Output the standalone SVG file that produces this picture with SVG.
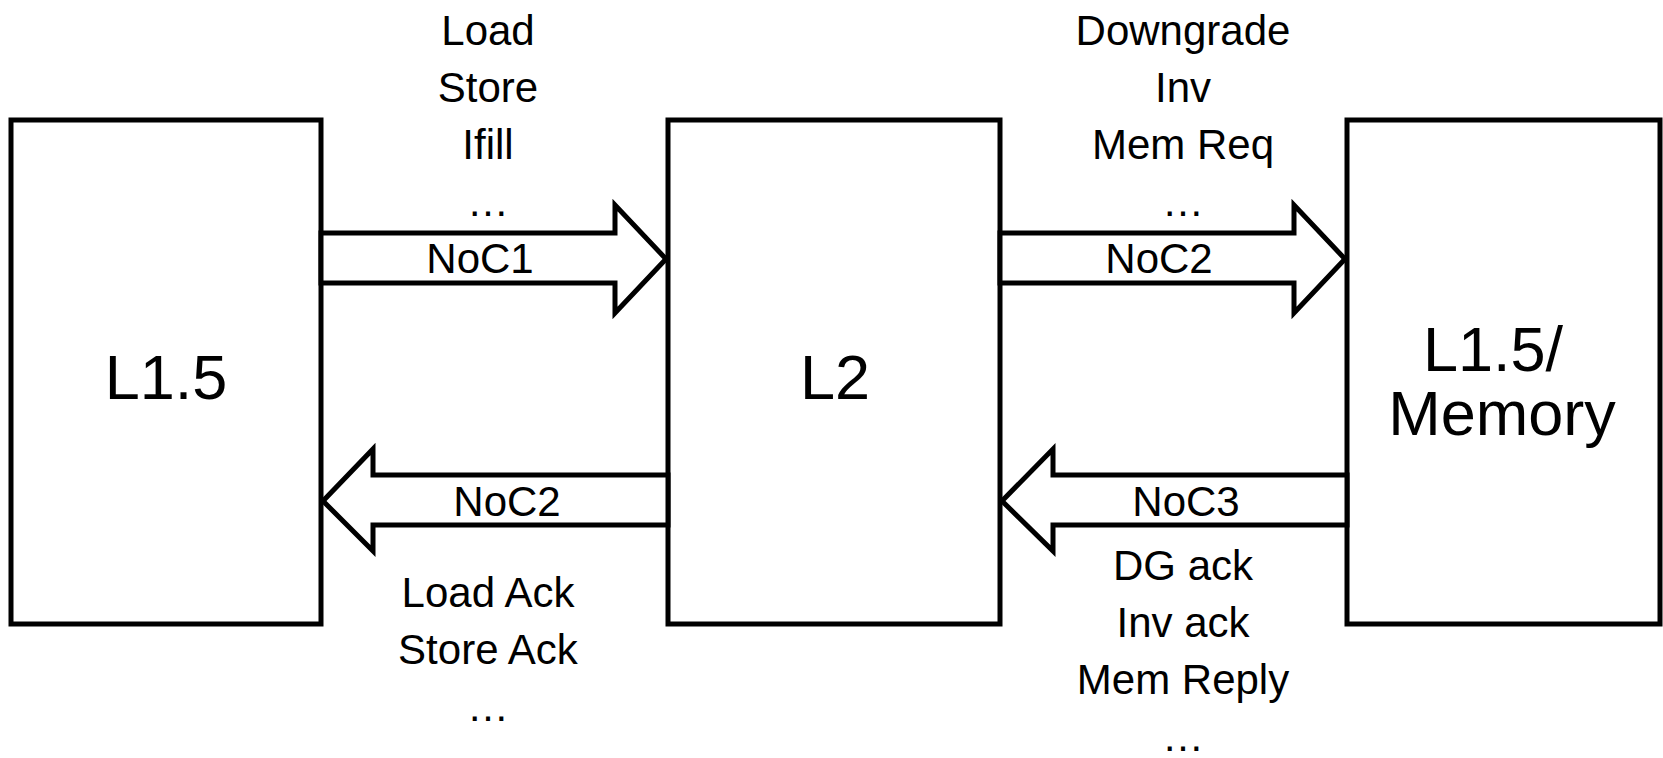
<svg xmlns="http://www.w3.org/2000/svg" width="1663" height="758" viewBox="0 0 1663 758">
<style>
.box{fill:#fff;stroke:#000;stroke-width:5;stroke-linejoin:miter}
.arr{fill:#fff;stroke:#000;stroke-width:5;stroke-linejoin:miter}
.t{font-family:"Liberation Sans",Arial,sans-serif;font-size:42px;fill:#000;text-anchor:middle}
.big{font-family:"Liberation Sans",Arial,sans-serif;font-size:63px;fill:#000;text-anchor:middle}
</style>
<rect width="1663" height="758" fill="#fff"/>
<g id="node-l15">
<rect class="box" x="11" y="120" width="310" height="504"/>
<text class="big" x="166" y="399">L1.5</text>
</g>
<g id="node-l2">
<rect class="box" x="668" y="120" width="332" height="504"/>
<text class="big" x="835" y="399">L2</text>
</g>
<g id="node-mem">
<rect class="box" x="1347" y="120" width="313" height="504"/>
<text class="big" x="1493" y="371">L1.5/</text>
<text class="big" x="1502" y="435">Memory</text>
</g>
<g id="connectors">
<polygon class="arr" points="321,233 615,233 615,205 666,259 615,313 615,283 321,283"/>
<polygon class="arr" points="1000,233 1294,233 1294,205 1345,259 1294,313 1294,283 1000,283"/>
<polygon class="arr" points="668,475 373,475 373,449 323,501 373,551 373,525 668,525"/>
<polygon class="arr" points="1347,475 1053,475 1053,449 1002,501 1053,551 1053,525 1347,525"/>
<text class="t" x="480" y="273">NoC1</text>
<text class="t" x="1159" y="273">NoC2</text>
<text class="t" x="507" y="516">NoC2</text>
<text class="t" x="1186" y="516">NoC3</text>
<text class="t" x="488" y="45">Load</text>
<text class="t" x="488" y="102">Store</text>
<text class="t" x="488" y="159">Ifill</text>
<text class="t" x="488" y="216">…</text>
<text class="t" x="1183" y="45">Downgrade</text>
<text class="t" x="1183" y="102">Inv</text>
<text class="t" x="1183" y="159">Mem Req</text>
<text class="t" x="1183" y="216">…</text>
<text class="t" x="488" y="607">Load Ack</text>
<text class="t" x="488" y="664">Store Ack</text>
<text class="t" x="488" y="721">…</text>
<text class="t" x="1183" y="580">DG ack</text>
<text class="t" x="1183" y="637">Inv ack</text>
<text class="t" x="1183" y="694">Mem Reply</text>
<text class="t" x="1183" y="751">…</text>
</g>
</svg>
